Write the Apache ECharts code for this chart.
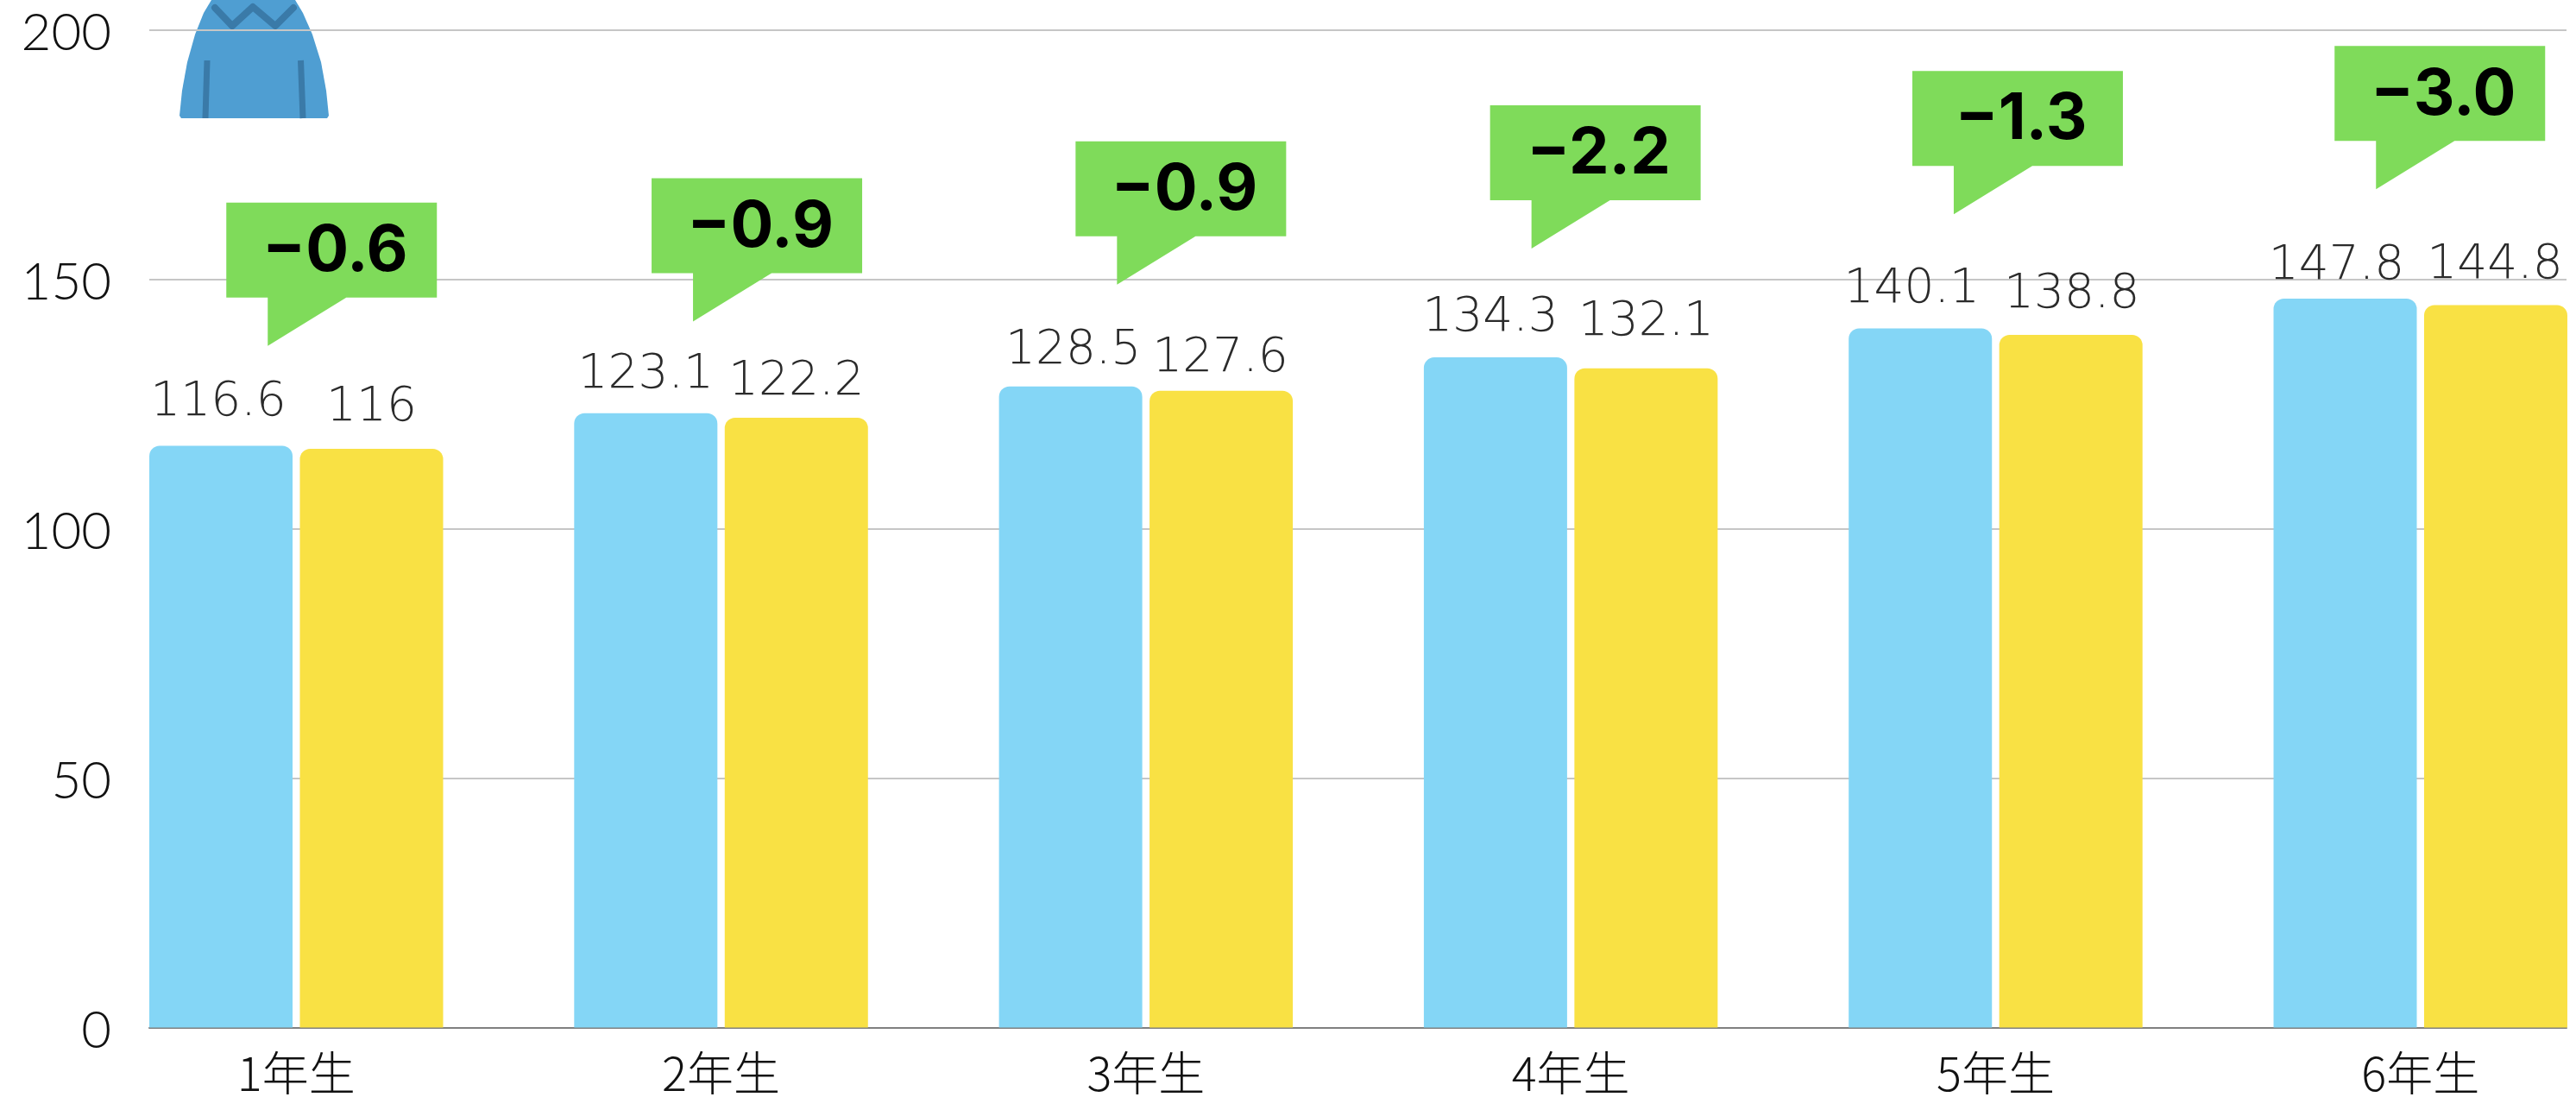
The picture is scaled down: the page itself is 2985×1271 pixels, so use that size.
<!DOCTYPE html>
<html><head><meta charset="utf-8">
<style>html,body{margin:0;padding:0;background:#fff}#c{width:2985px;height:1271px}</style>
<script src="https://cdn.jsdelivr.net/npm/echarts@6/dist/echarts.min.js"></script>
</head><body><div id="c"></div>
<script>
const categories = ['1年生','2年生','3年生','4年生','5年生','6年生'];
const blueValues = [116.6,123.1,128.5,134.3,140.1,146.1];
const yellowValues = [116,122.2,127.6,132.1,138.8,144.8];
const blueLabels = ['116.6','123.1','128.5','134.3','140.1','147.8'];
const yellowLabels = ['116','122.2','127.6','132.1','138.8','144.8'];
const diffLabels = ['−0.6','−0.9','−0.9','−2.2','−1.3','−3.0'];
const diffTipValues = [136.6,141.5,148.9,156.1,163,168];
const yTicks = [0,50,100,150,200];

// layout only
const blueLabelGap = [50,44,41,45,45,37];
const yellowLabelGap = [47,41,37,53,46,46];
const blueLabelShift = [-3,0,3,-6,-10,-10];
const yellowLabelShift = [0,0,-1,0,1,-1];
const diffShift = [-0.5,0,-1,-13,-16,-19];

const G = {top:34.3,height:1156.2};
const valueFont = {fontFamily:'"DejaVu Sans"',fontWeight:200,fontSize:55,lineHeight:48,color:'#2b2b2b'};
const chart = echarts.init(document.getElementById('c'),null,{renderer:'canvas'});

function mkData(vals,labels,gaps,shift){
  return vals.map((v,i)=>({value:v,label:{formatter:labels[i],distance:gaps[i]-24,offset:[shift[i],0]}}));
}
const sweater = {type:'group',z:50,silent:true,children:[
  {type:'polygon',shape:{points:[[245,0],[236,15],[226,40],[217,72],[211,105],[208,134],[210,137],[379,137],[381,134],[378,105],[372,72],[362,40],[351,15],[342,0]]},style:{fill:'#4F9ED2'}},
  {type:'polyline',shape:{points:[[249,9],[269,30],[293,8],[319,30],[340,9]]},style:{stroke:'#3A7AA8',lineWidth:8,fill:null,lineJoin:'round',lineCap:'round'}},
  {type:'polyline',shape:{points:[[240,70],[238,137]]},style:{stroke:'#3A7AA8',lineWidth:7,fill:null,lineCap:'butt'}},
  {type:'polyline',shape:{points:[[348.5,70],[351,137]]},style:{stroke:'#3A7AA8',lineWidth:7,fill:null,lineCap:'butt'}}
]};

chart.setOption({
  animation:false,
  backgroundColor:'#fff',
  graphic:{elements:[sweater]},
  grid:[
    {left:173,width:2801,top:G.top,height:G.height,outerBoundsMode:'none'},
    {left:97.1,width:2953.8,top:G.top,height:G.height,outerBoundsMode:'none'}
  ],
  xAxis:[
    {type:'category',gridIndex:0,data:categories,axisLabel:{show:false},axisTick:{show:false},
     axisLine:{show:true,lineStyle:{color:'#808080',width:2}}},
    {type:'category',gridIndex:1,data:categories,axisTick:{show:false},axisLine:{show:false},
     axisLabel:{margin:26,fontFamily:'"Noto Sans CJK JP"',fontWeight:300,fontSize:54,color:'#111',interval:0}}
  ],
  yAxis:[
    {type:'value',gridIndex:0,min:0,max:200,interval:50,axisLine:{show:false},axisTick:{show:false},
     splitLine:{lineStyle:{color:'#C6C6C6',width:2}},
     axisLabel:{margin:44,verticalAlign:'top',lineHeight:8,fontFamily:'Lato',fontWeight:300,fontSize:60,color:'#111',
       formatter:v=>yTicks.includes(v)?String(v):''}},
    {type:'value',gridIndex:1,min:0,max:200,interval:50,show:false,splitLine:{show:false}}
  ],
  series:[
    {name:'青',type:'bar',xAxisIndex:1,yAxisIndex:1,barWidth:166,barGap:'5.1%',z:3,
     data:mkData(blueValues,blueLabels,blueLabelGap,blueLabelShift),
     itemStyle:{color:'#84D6F6',borderRadius:[12,12,0,0]},
     label:Object.assign({show:true,position:'top'},valueFont)},
    {name:'黄',type:'bar',xAxisIndex:1,yAxisIndex:1,barWidth:166,z:3,
     data:mkData(yellowValues,yellowLabels,yellowLabelGap,yellowLabelShift),
     itemStyle:{color:'#F9E144',borderRadius:[12,12,0,0]},
     label:Object.assign({show:true,position:'top'},valueFont)},
    {name:'差',type:'custom',xAxisIndex:1,yAxisIndex:1,z:10,clip:false,
     data:diffTipValues.map((v,i)=>[i,v,diffLabels[i]]),
     encode:{x:0,y:1},
     renderItem(params,api){
       const p=api.coord([api.value(0),api.value(1)]);
       const i=params.dataIndex;
       const tx=p[0]-32.5+diffShift[i], ty=p[1];
       const L=tx-48,R=L+244,B=ty-56,T=B-110;
       return {type:'group',children:[
         {type:'polygon',shape:{points:[[L,T],[R,T],[R,B],[tx+91,B],[tx,ty],[tx,B],[L,B]]},style:{fill:'#7FDB5A'}},
         {type:'text',style:{text:diffLabels[i],x:(L+R)/2+4,y:(T+B)/2+2,align:'center',verticalAlign:'middle',
            fontFamily:'Inter',fontWeight:700,fontSize:74,fill:'#000'}}
       ]};
     }}
  ]
});
</script></body></html>
